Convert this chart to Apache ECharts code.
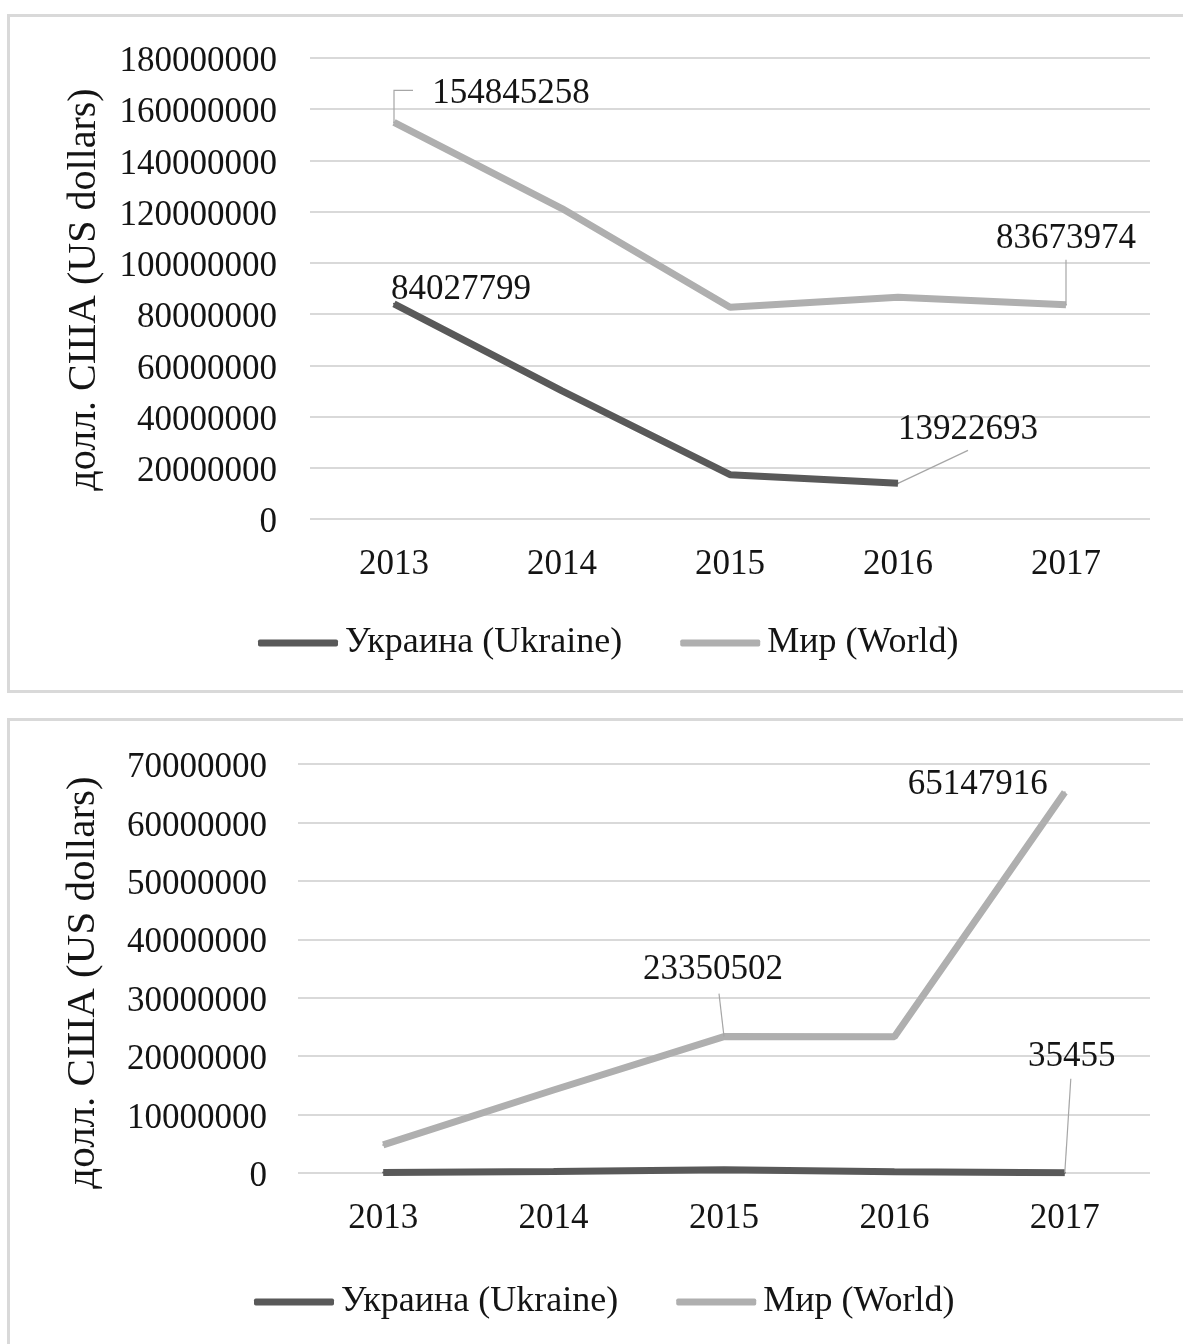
<!DOCTYPE html>
<html>
<head>
<meta charset="utf-8">
<script src="https://cdn.jsdelivr.net/npm/echarts@6/dist/echarts.min.js"></script>
<style>
  html, body { margin: 0; padding: 0; background: #fff; overflow: hidden; }
  #chart { width: 1183px; height: 1344px; }
</style>
</head>
<body>
<div id="chart"></div>
<script>
// datos
var years = ['2013', '2014', '2015', '2016', '2017'];

var ukraineTop = [84027799, 50000000, 17300000, 13922693, null];
var worldTop = [154845258, 121200000, 82700000, 86600000, 83673974];

var ukraineBottom = [100000, 250000, 550000, 200000, 35455];
var worldBottom = [4800000, 14200000, 23350502, 23300000, 65147916];

var topMax = 180000000, topStep = 20000000;
var bottomMax = 70000000, bottomStep = 10000000;

var nameUkraine = 'Украина (Ukraine)';
var nameWorld = 'Мир (World)';
var axisName = 'долл. США (US dollars)';

var colorUkraine = '#595959';
var colorWorld = '#afafaf';
var textColor = '#141414';
var guideColor = '#a6a6a6';
var fuente = '"Liberation Serif", "Times New Roman", serif';

// desplazamiento de etiquetas: indice -> [dx, dy]
var etiquetasUkraineTop = { 0: [67, 10], 3: [70, -30] };
var etiquetasWorldTop = { 0: [117, -5], 4: [0, -42] };
var etiquetasUkraineBottom = { 4: [7, -92] };
var etiquetasWorldBottom = { 2: [-11, -43], 4: [-87, 16] };

// lineas guia (px relativos al punto): [serie, indice, puntos]
var guias = [
  [1, 0, [[0, 0], [0, -32], [19, -32]]],
  [1, 4, [[0, 0], [0, -45]]],
  [0, 3, [[0, 0], [70, -33]]],
  [3, 2, [[0, 0], [-5, -43]]],
  [2, 4, [[0, 0], [6, -94]]]
];

function generarSerie(nombre, valores, idx, color, etiquetas) {
  return {
    name: nombre,
    type: 'line',
    xAxisIndex: idx,
    yAxisIndex: idx,
    symbol: 'circle',
    symbolSize: 2,
    showSymbol: true,
    itemStyle: { color: color },
    lineStyle: { color: color, width: 7 },
    label: {
      show: false,
      position: 'top',
      fontFamily: fuente,
      fontSize: 35,
      color: textColor,
      formatter: function (p) { return String(p.value); }
    },
    labelLayout: function (p) {
      var o = etiquetas[p.dataIndex];
      return o ? { dx: o[0], dy: o[1] } : {};
    },
    data: valores.map(function (v, i) {
      return etiquetas[i] ? { value: v, label: { show: true } } : v;
    }),
    z: color === colorUkraine ? 3 : 2
  };
}

function ejeY(idx, max, paso, margen, gap, tamNombre, ajuste) {
  return {
    type: 'value',
    gridIndex: idx,
    min: 0,
    max: max,
    interval: paso,
    name: axisName,
    nameLocation: 'middle',
    nameGap: gap,
    nameRotate: 90,
    nameTextStyle: { fontFamily: fuente, fontSize: tamNombre, color: textColor, padding: [0, ajuste, 0, 0] },
    axisLine: { show: false },
    axisTick: { show: false },
    axisLabel: {
      fontFamily: fuente, fontSize: 35, color: textColor, margin: margen,
      verticalAlign: 'top', lineHeight: 8,
      formatter: function (v) { return String(v); }
    },
    splitLine: { lineStyle: { color: '#d9d9d9', width: 2 } }
  };
}

function ejeX(idx) {
  return {
    type: 'category',
    gridIndex: idx,
    data: years,
    boundaryGap: true,
    axisLine: { show: false },
    axisTick: { show: false },
    axisLabel: { fontFamily: fuente, fontSize: 35, color: textColor, margin: 28 }
  };
}

function leyenda(top, left) {
  return {
    top: top,
    left: left,
    data: [nameUkraine, nameWorld],
    icon: 'roundRect',
    itemWidth: 80,
    itemHeight: 7,
    itemGap: 58,
    selectedMode: false,
    textStyle: { fontFamily: fuente, fontSize: 36, color: textColor, padding: [0, 0, 0, 2] }
  };
}

var marcos = [
  { type: 'rect', silent: true, shape: { x: 8.5, y: 15.5, width: 1200, height: 676 },
    style: { fill: null, stroke: '#d9d9d9', lineWidth: 3 } },
  { type: 'rect', silent: true, shape: { x: 8.5, y: 719.5, width: 1200, height: 700 },
    style: { fill: null, stroke: '#d9d9d9', lineWidth: 3 } }
];

var series = [
  generarSerie(nameUkraine, ukraineTop, 0, colorUkraine, etiquetasUkraineTop),
  generarSerie(nameWorld, worldTop, 0, colorWorld, etiquetasWorldTop),
  generarSerie(nameUkraine, ukraineBottom, 1, colorUkraine, etiquetasUkraineBottom),
  generarSerie(nameWorld, worldBottom, 1, colorWorld, etiquetasWorldBottom)
];

var myChart = echarts.init(document.getElementById('chart'), null, { renderer: 'canvas' });
myChart.setOption({
  animation: false,
  backgroundColor: '#fff',
  graphic: marcos,
  grid: [
    { left: 310, right: 33, top: 58, height: 461 },
    { left: 298, right: 33, top: 764, height: 409 }
  ],
  xAxis: [ejeX(0), ejeX(1)],
  yAxis: [ejeY(0, topMax, topStep, 33, 206, 40, 2), ejeY(1, bottomMax, bottomStep, 31, 194, 41, 28)],
  legend: [leyenda(620, 253), leyenda(1279, 249)],
  series: series
});

// lineas guia desde el punto de datos hasta la etiqueta
var lineas = guias.map(function (g) {
  var valor = series[g[0]].data[g[1]];
  if (typeof valor === 'object') valor = valor.value;
  var p = myChart.convertToPixel({ seriesIndex: g[0] }, [g[1], valor]);
  return {
    type: 'polyline',
    silent: true,
    z: 10,
    shape: { points: g[2].map(function (d) { return [p[0] + d[0], p[1] + d[1]]; }) },
    style: { stroke: guideColor, lineWidth: 1.2, fill: null }
  };
});
myChart.setOption({ graphic: marcos.concat(lineas) });
</script>
</body>
</html>
